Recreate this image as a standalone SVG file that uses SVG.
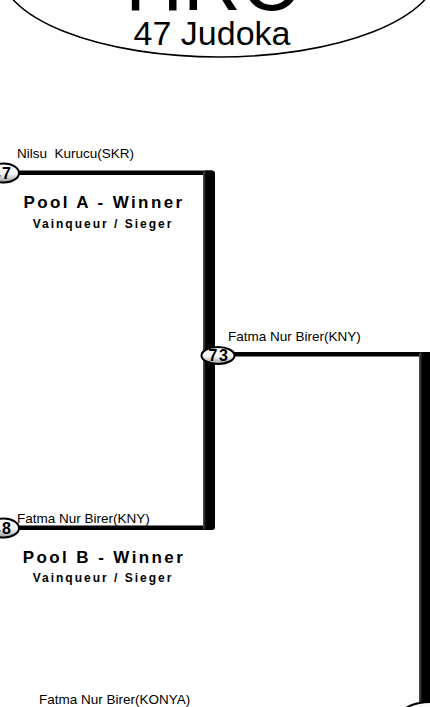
<svg xmlns="http://www.w3.org/2000/svg" width="430" height="707" viewBox="0 0 430 707">
<style>
.name{font-family:"Liberation Sans",Arial,sans-serif;font-size:13.5px;fill:#000}
.pool{font-family:"Liberation Sans",Arial,sans-serif;font-weight:bold;font-size:17px;letter-spacing:2.4px;fill:#000;text-anchor:middle}
.sub{font-family:"Liberation Sans",Arial,sans-serif;font-weight:bold;font-size:12px;letter-spacing:2px;fill:#000;text-anchor:middle}
.num{font-family:"Liberation Sans",Arial,sans-serif;font-weight:bold;font-size:16px;letter-spacing:1.5px;fill:#000;text-anchor:middle}
.badge{fill:url(#bg);stroke:#000;stroke-width:2}
.line{fill:#000}
</style>
<defs>
<linearGradient id="bg" x1="0" y1="0" x2="0" y2="1">
<stop offset="0" stop-color="#ffffff"/>
<stop offset="0.55" stop-color="#f4f4f4"/>
<stop offset="1" stop-color="#9a9a9a"/>
</linearGradient>
<linearGradient id="bar" x1="0" y1="0" x2="1" y2="0">
<stop offset="0" stop-color="#555"/>
<stop offset="0.25" stop-color="#000"/>
<stop offset="1" stop-color="#000"/>
</linearGradient>
</defs>
<rect width="430" height="707" fill="#fff"/>
<g id="title">
<ellipse cx="219" cy="-30" rx="219" ry="87" fill="#fff" stroke="#000" stroke-width="1.6"/>
<text x="212" y="10" font-family="Liberation Sans,Arial,sans-serif" font-size="80" text-anchor="middle">HRC</text>
<text x="212" y="45" font-family="Liberation Sans,Arial,sans-serif" font-size="34" text-anchor="middle">47 Judoka</text>
</g>
<g id="connectors">
<rect class="line" x="18" y="170.5" width="194" height="4.5"/>
<rect class="line" x="18" y="525.5" width="194" height="4.5"/>
<rect x="203" y="170.5" width="12" height="359.5" rx="3" fill="url(#bar)"/>
<rect class="line" x="232" y="352" width="194" height="4.5"/>
<rect x="419" y="352" width="14" height="360" rx="3" fill="url(#bar)"/>
</g>
<g id="node-47">
<ellipse class="badge" cx="4" cy="173" rx="15" ry="9.5"/>
<text class="num" x="2" y="179">47</text>
<text class="name" x="17" y="158" font-size="10.5" xml:space="preserve">Nilsu  Kurucu(SKR)</text>
<text class="pool" x="104" y="208">Pool A - Winner</text>
<text class="sub" x="103" y="228">Vainqueur / Sieger</text>
</g>
<g id="node-48">
<ellipse class="badge" cx="4" cy="528" rx="15" ry="9.5"/>
<text class="num" x="2" y="534">48</text>
<text class="name" x="17" y="523">Fatma Nur Birer(KNY)</text>
<text class="pool" x="104" y="563">Pool B - Winner</text>
<text class="sub" x="103" y="582">Vainqueur / Sieger</text>
</g>
<g id="node-73">
<ellipse class="badge" cx="218" cy="355.5" rx="16.5" ry="8.5"/>
<text class="num" x="219" y="361">73</text>
<text class="name" x="228" y="341">Fatma Nur Birer(KNY)</text>
</g>
<g id="node-final">
<ellipse class="badge" cx="432" cy="714" rx="30" ry="12"/>
<text class="num" x="436" y="720">74</text>
<text class="name" x="39" y="704">Fatma Nur Birer(KONYA)</text>
</g>
</svg>
